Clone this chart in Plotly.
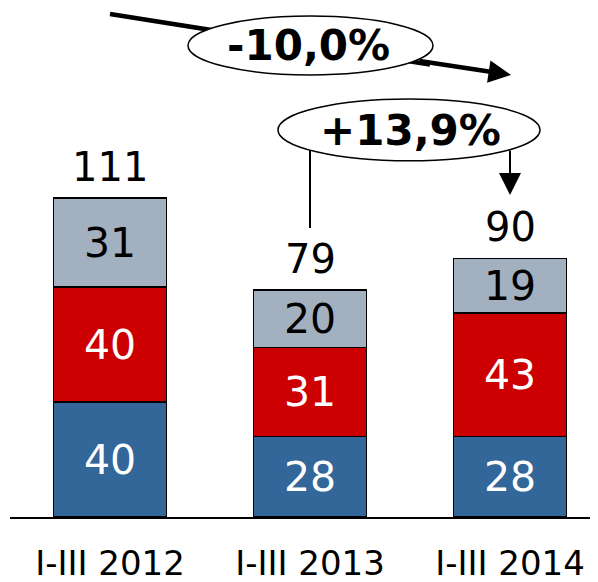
import plotly.graph_objects as go

# periods and stacked segments (bottom -> top)
periods = ["I-III 2012", "I-III 2013", "I-III 2014"]
seg_blue = [40, 28, 28]
seg_red = [40, 31, 43]
seg_grey = [31, 20, 19]
totals = [111, 79, 90]

change_long = "-10,0%"
change_short = "+13,9%"

FONT = "DejaVu Sans"
x_pos = [0, 1, 2]


def add_segment(fig, values, fill, text_color):
    fig.add_trace(go.Bar(
        x=x_pos, y=values, width=0.565,
        marker=dict(color=fill, line=dict(color="black", width=1.5)),
        text=[str(v) for v in values], textposition="inside",
        insidetextanchor="middle", textangle=0, constraintext="none",
        textfont=dict(family=FONT, size=41, color=text_color),
        hoverinfo="skip", showlegend=False,
    ))


fig = go.Figure()
add_segment(fig, seg_blue, "#336699", "white")
add_segment(fig, seg_red, "#CC0000", "white")
add_segment(fig, seg_grey, "#A2B0C0", "black")

# totals above the bars
for xi, t in zip(x_pos, totals):
    fig.add_annotation(x=xi, y=t, text=str(t), showarrow=False,
                       yanchor="bottom", yshift=6,
                       font=dict(family=FONT, size=40, color="black"))

# long comparison: diagonal line, ellipse on top, arrow tail afterwards
fig.add_shape(type="line", xref="x", yref="y", x0=0, y0=175.1, x1=1.6, y1=157.5,
              line=dict(color="black", width=4.5))
fig.add_shape(type="circle", xref="x", yref="y", x0=0.39, x1=1.615, y0=153.9, y1=174.4,
              fillcolor="white", line=dict(color="black", width=1.5))
fig.add_annotation(x=2.005, y=153.9, ax=1.54, ay=158.8, axref="x", ayref="y",
                   xref="x", yref="y", text="", showarrow=True,
                   arrowhead=2, arrowsize=1, arrowwidth=4.5, arrowcolor="black", standoff=0)
fig.add_annotation(x=0.99, y=164.3, text="<b>%s</b>" % change_long, showarrow=False,
                   font=dict(family=FONT, size=42, color="black"))

# short comparison: 2013 -> 2014
fig.add_shape(type="line", xref="x", yref="y", x0=1.0, y0=100.6, x1=1.0, y1=128.5,
              line=dict(color="black", width=2))
fig.add_shape(type="circle", xref="x", yref="y", x0=0.84, x1=2.15, y0=124.0, y1=145.5,
              fillcolor="white", line=dict(color="black", width=1.5))
fig.add_annotation(x=2.0, y=112.1, ax=2.0, ay=128.1, axref="x", ayref="y",
                   xref="x", yref="y", text="", showarrow=True,
                   arrowhead=2, arrowsize=2.2, arrowwidth=2, arrowcolor="black", standoff=0)
fig.add_annotation(x=1.5, y=134.4, text="<b>%s</b>" % change_short, showarrow=False,
                   font=dict(family=FONT, size=42, color="black"))

# page body adds an 8px offset, so the figure is drawn a little smaller
fig.update_layout(
    barmode="stack",
    width=590, height=574,
    margin=dict(l=2, r=0, t=0, b=65),
    paper_bgcolor="white", plot_bgcolor="white",
    font=dict(family=FONT, color="black"),
)
fig.update_xaxes(range=[-0.5, 2.44], tickvals=x_pos, ticktext=periods,
                 showline=True, linecolor="black", linewidth=2,
                 showgrid=False, zeroline=False, ticks="",
                 ticklabelstandoff=15, automargin=False,
                 tickfont=dict(family=FONT, size=34, color="black"))
fig.update_yaxes(range=[0, 177.2], visible=False, showgrid=False, zeroline=False)

fig.write_html("out.html")
